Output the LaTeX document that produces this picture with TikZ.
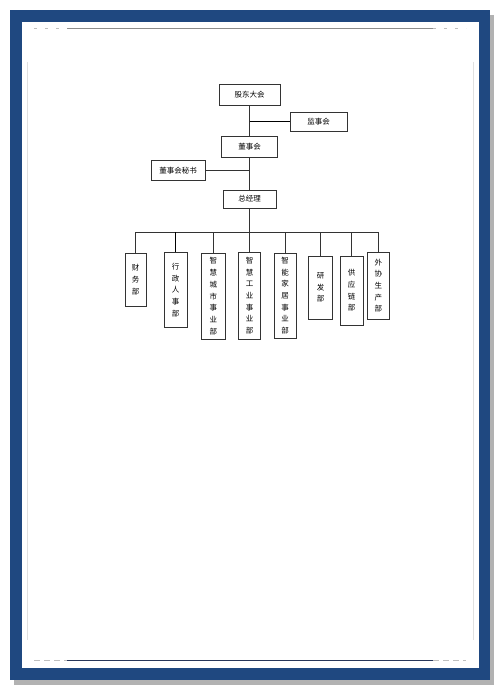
\documentclass[tikz,border=0pt]{standalone}
\usepackage{fontspec}
\usepackage{xcolor}
\usepackage{tikz}
\newfontfamily\cjk{Noto Sans CJK SC}
\usetikzlibrary{positioning,calc}
\definecolor{frameblue}{RGB}{31,72,128}
\definecolor{lineblue}{RGB}{40,55,90}

\begin{document}
\begin{tikzpicture}[x=1pt, y=-1pt,
  orgbox/.style={draw=black!80, line width=0.6pt, fill=white, inner sep=0pt, align=center,
    font=\cjk\fontsize{7.5}{11.7}\selectfont},
  link/.style={draw=black!80, line width=0.6pt},
  boldlink/.style={draw=black, line width=1.1pt}]

% === PAGE FRAME ===
\useasboundingbox (0,0) rectangle (500,693);
\fill[white] (0,0) rectangle (500,693);
\fill[black!30] (14,15) rectangle (494,685);
\fill[frameblue] (10,10) rectangle (490,680);
\fill[white] (22,22) rectangle (479,668);
% thin page rules
\draw[black!45, line width=0.9pt] (67,28) -- (433,28);
\draw[lineblue, line width=0.9pt] (67,660) -- (433,660);
\draw[black!25, line width=0.6pt, dash pattern=on 6pt off 4pt] (34,660) -- (67,660);
\draw[black!25, line width=0.6pt, dash pattern=on 6pt off 4pt] (433,660) -- (466,660);
\draw[black!25, line width=0.6pt, dash pattern=on 3pt off 8pt] (34,28) -- (67,28);
\draw[black!25, line width=0.6pt, dash pattern=on 3pt off 8pt] (433,28) -- (466,28);
\draw[black!12, line width=0.5pt] (27,62) -- (27,640);
\draw[black!12, line width=0.5pt] (473,62) -- (473,640);

% === TOP: governance chain ===
\node[orgbox, minimum width=61pt, minimum height=21pt] (gd) at (249.5,94.5) {股东大会};
\node[orgbox, minimum width=57pt, minimum height=19pt] (js) at (318.5,121.5) {监事会};
\node[orgbox, minimum width=56pt, minimum height=20.5pt] (dsh) at (249.5,147) {董事会};
\node[orgbox, minimum width=54pt, minimum height=20pt] (ms) at (178,170.5) {董事会秘书};
\node[orgbox, minimum width=53pt, minimum height=18pt] (zjl) at (249.5,199) {总经理};

\draw[link] (gd) -- (dsh);
\draw[link] (dsh) -- (zjl);
\draw[boldlink] (gd.south |- js.west) -- (js.west);
\draw[link] (ms.east) -- (ms.east -| dsh.south);

% === BOTTOM: departments ===
\coordinate (bar) at (249.5,232.3);
\node[orgbox, minimum width=21.7pt, minimum height=52.7pt] (cw) at (135.7,279.7) {财\\务\\部};
\node[orgbox, minimum width=23.7pt, minimum height=74.6pt] (xz) at (175.7,290) {行\\政\\人\\事\\部};
\node[orgbox, minimum width=23.4pt, minimum height=85.7pt] (cs) at (213.3,296.2) {智\\慧\\城\\市\\事\\业\\部};
\node[orgbox, minimum width=22.4pt, minimum height=86.7pt] (gy) at (249.5,295.7) {智\\慧\\工\\业\\事\\业\\部};
\node[orgbox, minimum width=21.6pt, minimum height=85.3pt] (jj) at (285,295.7) {智\\能\\家\\居\\事\\业\\部};
\node[orgbox, minimum width=24pt, minimum height=63pt] (yf) at (320.7,287.5) {研\\发\\部};
\node[orgbox, minimum width=22.7pt, minimum height=69pt] (gyl) at (351.7,290.5) {供\\应\\链\\部};
\node[orgbox, minimum width=22.6pt, minimum height=66.7pt] (wx) at (378.3,285.7) {外\\协\\生\\产\\部};

\draw[link] (zjl.south) -- (gy.north);
\draw[link] (cw.north |- bar) -- (wx.north |- bar);
\draw[link] (cw.north) -- (cw.north |- bar);
\draw[boldlink, line width=0.9pt] (xz.north) -- (xz.north |- bar);
\draw[link] (cs.north) -- (cs.north |- bar);
\draw[link] (jj.north) -- (jj.north |- bar);
\draw[link] (yf.north) -- (yf.north |- bar);
\draw[link] (gyl.north) -- (gyl.north |- bar);
\draw[link] (wx.north) -- (wx.north |- bar);

\end{tikzpicture}
\end{document}
